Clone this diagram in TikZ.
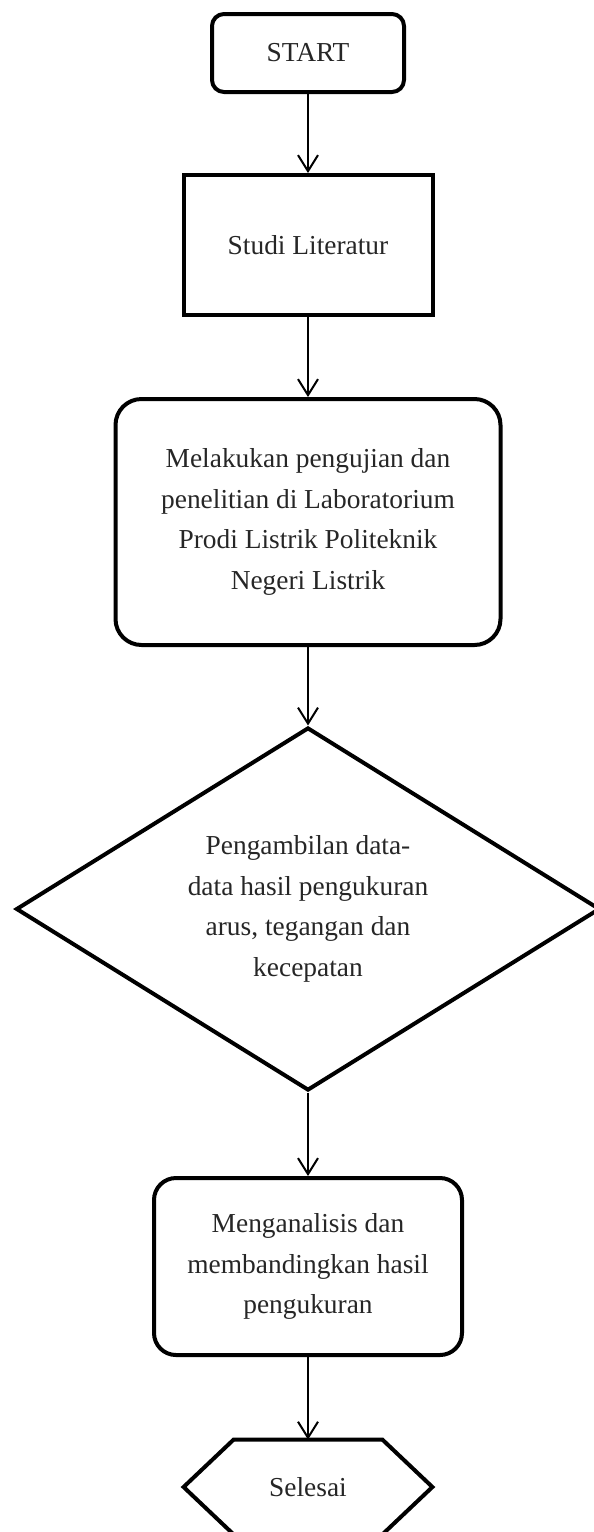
\documentclass[tikz,border=0pt]{standalone}
\usepackage{fontspec}
\setmainfont{Liberation Serif}
\usetikzlibrary{shapes.geometric,arrows.meta}

\begin{document}
\begin{tikzpicture}[x=0.5pt,y=-0.5pt,
  >={Straight Barb[length=8pt,width=10pt]},
  every node/.style={font=\fontsize{13.7}{20.3}\selectfont,text=black!85,align=center},
  box/.style={draw,line width=2pt},
  roundbox/.style={box,rounded corners=#1},
  flow/.style={->,line width=1pt}]

% Fix the canvas
\useasboundingbox (0,0) rectangle (594,1532);

% Add boxes
\node[roundbox=6pt,minimum width=96pt,minimum height=39pt] (start) at (308,53) {START};
\node[box,minimum width=124.5pt,minimum height=70pt] (studi) at (308,245) {Studi Literatur};
\node[roundbox=13pt,minimum width=192.5pt,minimum height=123pt] (uji) at (308,522) {Melakukan pengujian dan\\penelitian di Laboratorium\\Prodi Listrik Politeknik\\Negeri Listrik};
\node[box,diamond,aspect=1.6,inner sep=2pt,minimum width=292pt,minimum height=181.5pt] (ambil) at (308,909) {Pengambilan data-\\data hasil pengukuran\\arus, tegangan dan\\kecepatan};
\node[roundbox=11pt,minimum width=154pt,minimum height=88.5pt] (analisis) at (308,1266.5) {Menganalisis dan\\membandingkan hasil\\pengukuran};
\node[minimum width=124pt,minimum height=47pt] (selesai) at (308,1487) {Selesai};

% Draw the end shape
\draw[line width=2pt] ([xshift=25pt]selesai.north west) -- ([xshift=-25pt]selesai.north east) -- (selesai.east) -- ([xshift=-25pt]selesai.south east) -- ([xshift=25pt]selesai.south west) -- (selesai.west) -- cycle;

% Connect the steps
\draw[flow] (start) -- (studi);
\draw[flow] (studi) -- (uji);
\draw[flow] (uji) -- (ambil);
\draw[flow] (ambil) -- (analisis);
\draw[flow] (analisis) -- (selesai.north);

\end{tikzpicture}
\end{document}
